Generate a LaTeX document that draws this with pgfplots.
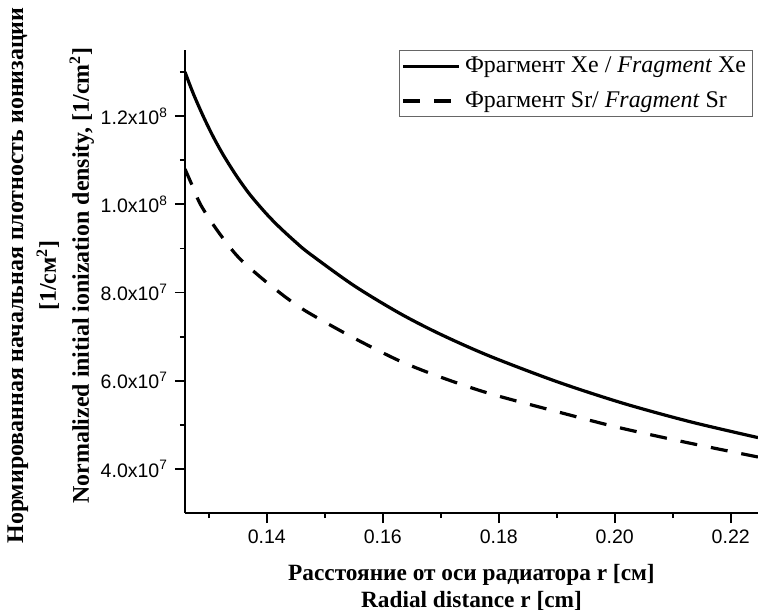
\documentclass[border=0pt]{standalone}
\usepackage{pgfplots}
\pgfplotsset{compat=1.18}
\usepackage{fontspec}
\setmainfont{Liberation Serif}
\newfontfamily\arial{Liberation Sans}

\begin{document}
\begin{tikzpicture}
\useasboundingbox (-92.5bp,-48.5bp) rectangle (286.5bp,256.5bp);
\begin{axis}[
    width=286.5bp, height=231.5bp, scale only axis,
    xmin=0.1259, xmax=0.2247,
    ymin=3e7, ymax=1.35e8,
    axis lines=left,
    axis line style={-, line width=0.9bp},
    tick style={line width=0.9bp, black},
    tick align=outside,
    major tick length=5bp, minor tick length=2.5bp,
    xtick={0.14,0.16,0.18,0.20,0.22},
    minor xtick={0.13,0.15,0.17,0.19,0.21},
    ytick={4e7,6e7,8e7,1e8,1.2e8},
    minor ytick={5e7,7e7,9e7,1.1e8,1.3e8},
    yticklabels={4.0x10\textsuperscript{7},6.0x10\textsuperscript{7},8.0x10\textsuperscript{7},1.0x10\textsuperscript{8},1.2x10\textsuperscript{8}},
    scaled y ticks=false, scaled x ticks=false,
    xticklabel style={/pgf/number format/.cd, fixed, fixed zerofill, precision=2, assume math mode=true},
    tick label style={font=\arial\fontsize{9.8}{11}\selectfont},
    xlabel={Расстояние от оси радиатора r [см]\\Radial distance r [cm]},
    xlabel style={font=\bfseries\fontsize{11.7}{13.5}\selectfont, align=center, at={(axis description cs:0.5,0)}, anchor=north, yshift=-22bp},
    ylabel={Нормированная начальная плотность ионизации\\ {[1/см\textsuperscript{2}]}\\ Normalized initial ionization density, [1/cm\textsuperscript{2}]},
    ylabel style={font=\bfseries\fontsize{12}{16.5}\selectfont, align=center, rotate=0,
        at={([xshift=-42bp, yshift=3bp]axis description cs:0,0.5)}, anchor=south},
    legend style={at={(1,1)}, anchor=north east, xshift=-2.5bp, draw=black!60, line width=0.5bp,
        font=\fontsize{12}{14}\selectfont, inner sep=1.2bp, row sep=4bp, cells={anchor=west}},
    legend image code/.code={\draw[#1, line width=1.6bp] (0bp,0bp) -- (28bp,0bp);},
]
\addplot[black, line width=1.6bp, smooth] coordinates {
(0.1259,1.300e8)(0.1273,1.252e8)(0.1290,1.201e8)(0.1307,1.155e8)(0.1325,1.112e8)
(0.1348,1.064e8)(0.1371,1.022e8)(0.1399,9.79e7)(0.1422,9.48e7)(0.1451,9.13e7)
(0.1474,8.88e7)(0.1550,8.16e7)(0.1629,7.53e7)(0.1700,7.05e7)(0.1784,6.56e7)
(0.1900,5.98e7)(0.2014,5.49e7)(0.2130,5.07e7)(0.2247,4.71e7)
};
\addlegendentry{Фрагмент Xe / \textit{Fragment} Xe}
\addplot[black, line width=1.6bp, smooth, dash pattern=on 8.5bp off 7bp] coordinates {
(0.1259,1.080e8)(0.1270,1.047e8)(0.1286,9.99e7)(0.1314,9.42e7)(0.1349,8.83e7)
(0.1389,8.35e7)(0.1434,7.88e7)(0.1471,7.55e7)(0.1550,6.97e7)(0.1629,6.45e7)
(0.1700,6.08e7)(0.1784,5.71e7)(0.1900,5.30e7)(0.2003,4.95e7)(0.2120,4.61e7)
(0.2247,4.27e7)
};
\addlegendentry{Фрагмент Sr/ \textit{Fragment} Sr}
\end{axis}
\end{tikzpicture}
\end{document}
